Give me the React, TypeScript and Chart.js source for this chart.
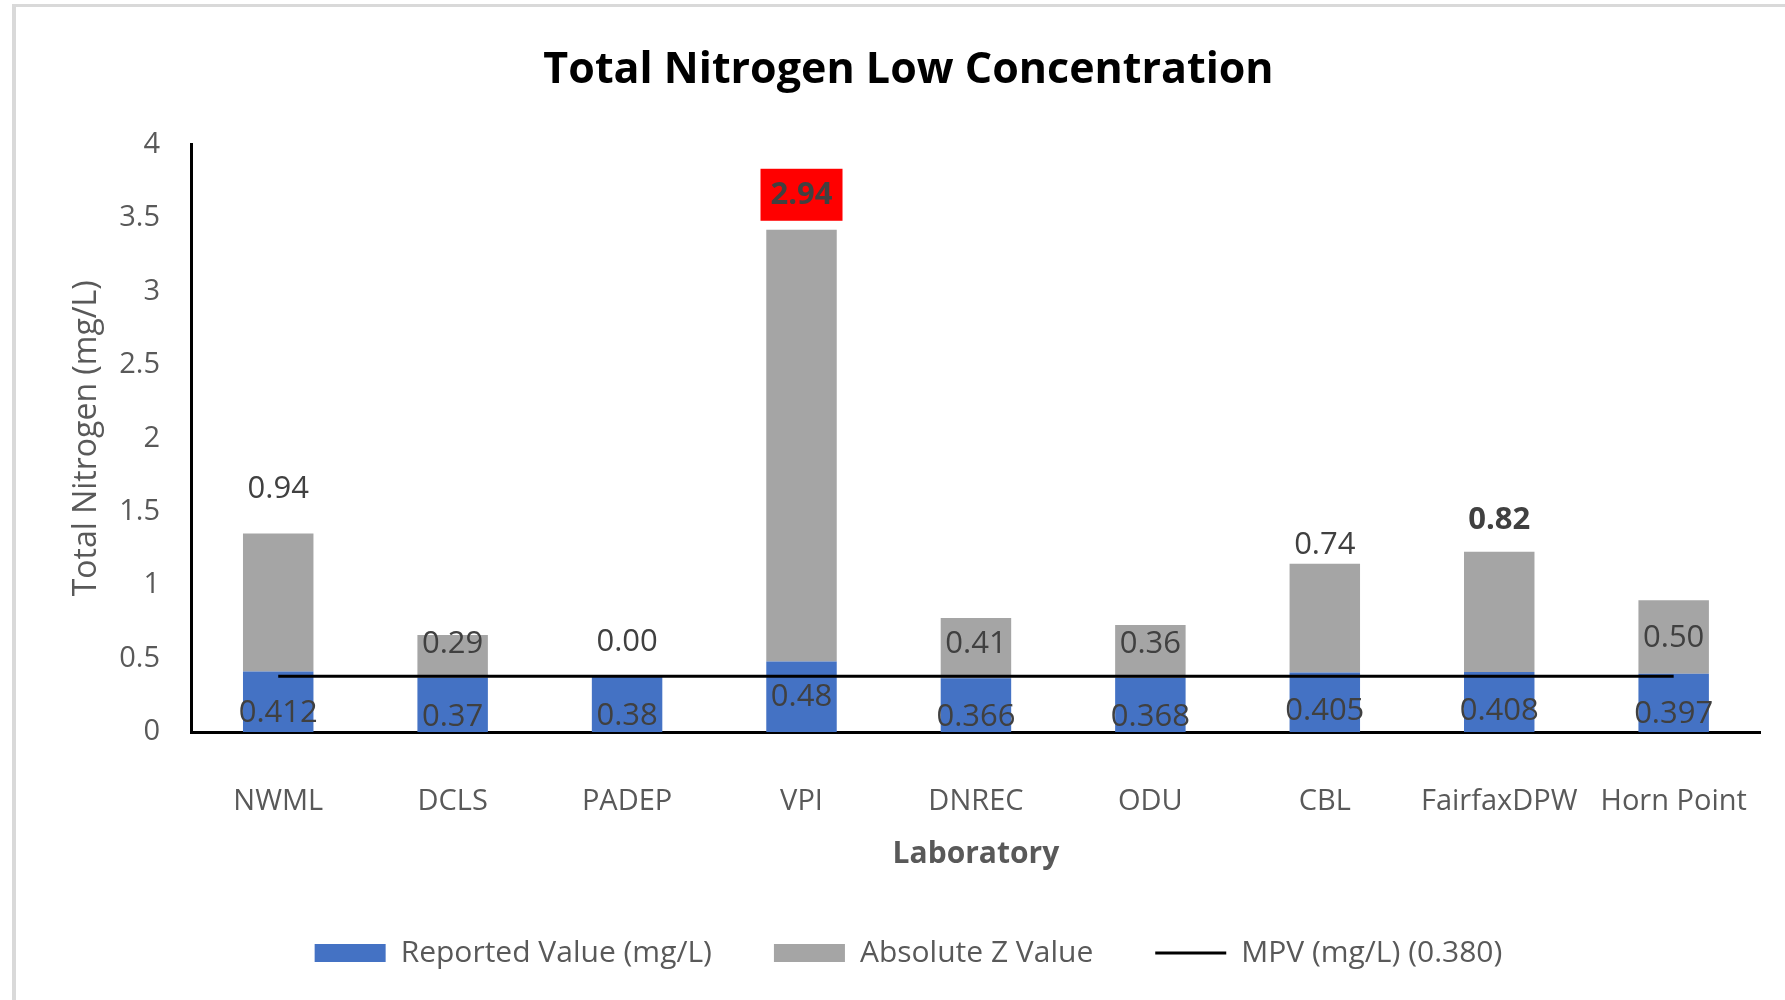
import React, { useEffect, useRef } from 'react';
import { Chart, registerables } from 'chart.js';

Chart.register(...registerables);

// ---------- data ----------
const LABS = ['NWML', 'DCLS', 'PADEP', 'VPI', 'DNREC', 'ODU', 'CBL', 'FairfaxDPW', 'Horn Point'];
const REPORTED = [0.412, 0.37, 0.38, 0.48, 0.366, 0.368, 0.405, 0.408, 0.397];
const ABS_Z = [0.94, 0.29, 0.0, 2.94, 0.41, 0.36, 0.74, 0.82, 0.5];
const MPV = 0.38;
const Y_MIN = 0;
const Y_MAX = 4;
const Y_STEP = 0.5;

// ---------- label styling (placement rules, not data) ----------
const BLUE_LABEL_MODE = ['base', 'base', 'base', 'mid', 'base', 'base', 'base', 'base', 'base'];
const BLUE_LABEL_LIFT = [19, 15, 16, 0, 15, 15, 21, 21, 18];
const GRAY_LABEL_MODE = ['top', 'mid', 'top', 'top', 'mid', 'mid', 'top', 'top', 'mid'];
const GRAY_LABEL_SHIFT = [44, 12, 34, 35, 4, 7, 19, 31, -1];
const GRAY_LABEL_BOLD = [false, false, false, true, false, false, false, true, false];
const GRAY_LABEL_BG = [null, null, null, '#FF0000', null, null, null, null, null];

const BLUE = '#4472C4';
const GRAY = '#A5A5A5';
const TEXT = '#595959';
const LABEL_TEXT = '#404040';
const FONT = '"Open Sans", "Noto Sans", sans-serif';

const CANVAS_W = 1785;
const CANVAS_H = 993;

const valueLabels = {
  id: 'valueLabels',
  afterDatasetsDraw(chart: any) {
    const ctx = chart.ctx;
    const blueMeta = chart.getDatasetMeta(0);
    const grayMeta = chart.getDatasetMeta(1);
    ctx.save();
    ctx.textAlign = 'center';
    ctx.textBaseline = 'middle';
    LABS.forEach((_, i) => {
      const b: any = blueMeta.data[i];
      const g: any = grayMeta.data[i];
      // reported value label
      const by = BLUE_LABEL_MODE[i] === 'mid' ? (b.y + b.base) / 2 : b.base - BLUE_LABEL_LIFT[i];
      ctx.font = `31px ${FONT}`;
      ctx.fillStyle = LABEL_TEXT;
      ctx.fillText(String(REPORTED[i]), b.x, by);
      // absolute z label
      const gy = GRAY_LABEL_MODE[i] === 'mid' ? (g.y + g.base) / 2 - GRAY_LABEL_SHIFT[i] : g.y - GRAY_LABEL_SHIFT[i];
      const bg = GRAY_LABEL_BG[i];
      if (bg) {
        ctx.fillStyle = bg;
        ctx.fillRect(g.x - 41, gy - 26, 82, 52);
      }
      ctx.font = `${GRAY_LABEL_BOLD[i] ? 'bold ' : ''}31px ${FONT}`;
      ctx.fillStyle = LABEL_TEXT;
      ctx.fillText(ABS_Z[i].toFixed(2), g.x, gy);
    });
    ctx.restore();
  },
};

export default function App() {
  const ref = useRef<HTMLCanvasElement | null>(null);

  useEffect(() => {
    if (!ref.current) return;
    const chart = new Chart(ref.current, {
      type: 'bar',
      data: {
        labels: LABS,
        datasets: [
          {
            type: 'bar',
            label: 'Reported Value (mg/L)',
            data: REPORTED,
            backgroundColor: BLUE,
            borderWidth: 0,
            stack: 'lab',
            pointStyle: 'rect',
            barPercentage: 0.404,
            categoryPercentage: 1,
            order: 1,
          } as any,
          {
            type: 'bar',
            label: 'Absolute Z Value',
            data: ABS_Z,
            backgroundColor: GRAY,
            borderWidth: 0,
            stack: 'lab',
            pointStyle: 'rect',
            barPercentage: 0.404,
            categoryPercentage: 1,
            order: 1,
          } as any,
          {
            type: 'line',
            label: 'MPV (mg/L) (0.380)',
            data: LABS.map(() => MPV),
            borderColor: '#000000',
            backgroundColor: '#000000',
            borderWidth: 3,
            pointRadius: 0,
            pointStyle: 'line',
            stack: 'mpv',
            fill: false,
            order: 0,
          } as any,
        ],
      },
      options: {
        responsive: false,
        animation: false,
        devicePixelRatio: 1,
        layout: { padding: { left: 39, right: 39, top: 0, bottom: 22 } },
        plugins: {
          title: {
            display: true,
            text: 'Total Nitrogen Low Concentration',
            color: '#000000',
            font: { family: FONT, size: 43, weight: 'bold' },
            padding: { top: 38, bottom: 48 },
          },
          legend: {
            display: true,
            position: 'bottom',
            labels: {
              usePointStyle: true,
              pointStyleWidth: 71,
              boxHeight: 18,
              padding: 62,
              color: TEXT,
              font: { family: FONT, size: 30 },
              sort: (a: any, b: any) => a.datasetIndex - b.datasetIndex,
            },
          },
          tooltip: { enabled: false },
        },
        scales: {
          x: {
            stacked: true,
            grid: { display: false, drawTicks: false },
            border: { display: true, color: '#000000', width: 3 },
            ticks: { color: TEXT, font: { family: FONT, size: 29 }, padding: 52, maxRotation: 0 },
            title: {
              display: true,
              text: 'Laboratory',
              color: TEXT,
              font: { family: FONT, size: 30, weight: 'bold' },
              padding: { top: 0, bottom: 4 },
            },
            afterFit: (s: any) => {
              s.height = 144;
            },
          },
          y: {
            stacked: true,
            min: Y_MIN,
            max: Y_MAX,
            grid: { display: false, drawTicks: false },
            border: { display: true, color: '#000000', width: 3 },
            ticks: {
              stepSize: Y_STEP,
              color: TEXT,
              font: { family: FONT, size: 29 },
              padding: 31,
              callback: (v: any) => String(Number(v)),
            },
            title: {
              display: true,
              text: 'Total Nitrogen (mg/L)',
              color: TEXT,
              font: { family: FONT, size: 32 },
              padding: { top: 13, bottom: 0 },
            },
            afterFit: (s: any) => {
              s.width = 136;
            },
          },
        },
      } as any,
      plugins: [valueLabels],
    });
    return () => chart.destroy();
  }, []);

  return (
    <div
      style={{
        position: 'fixed',
        left: 0,
        top: 0,
        width: 1785,
        height: 1000,
        overflow: 'hidden',
        background: '#ffffff',
      }}
    >
      <div
        style={{
          position: 'absolute',
          left: 12,
          top: 4,
          width: 2000,
          height: 2000,
          borderTop: '3px solid #d9d9d9',
          borderLeft: '4px solid #d9d9d9',
        }}
      />
      <canvas
        ref={ref}
        width={CANVAS_W}
        height={CANVAS_H}
        style={{ position: 'absolute', left: 16, top: 7, width: CANVAS_W, height: CANVAS_H }}
      />
    </div>
  );
}
